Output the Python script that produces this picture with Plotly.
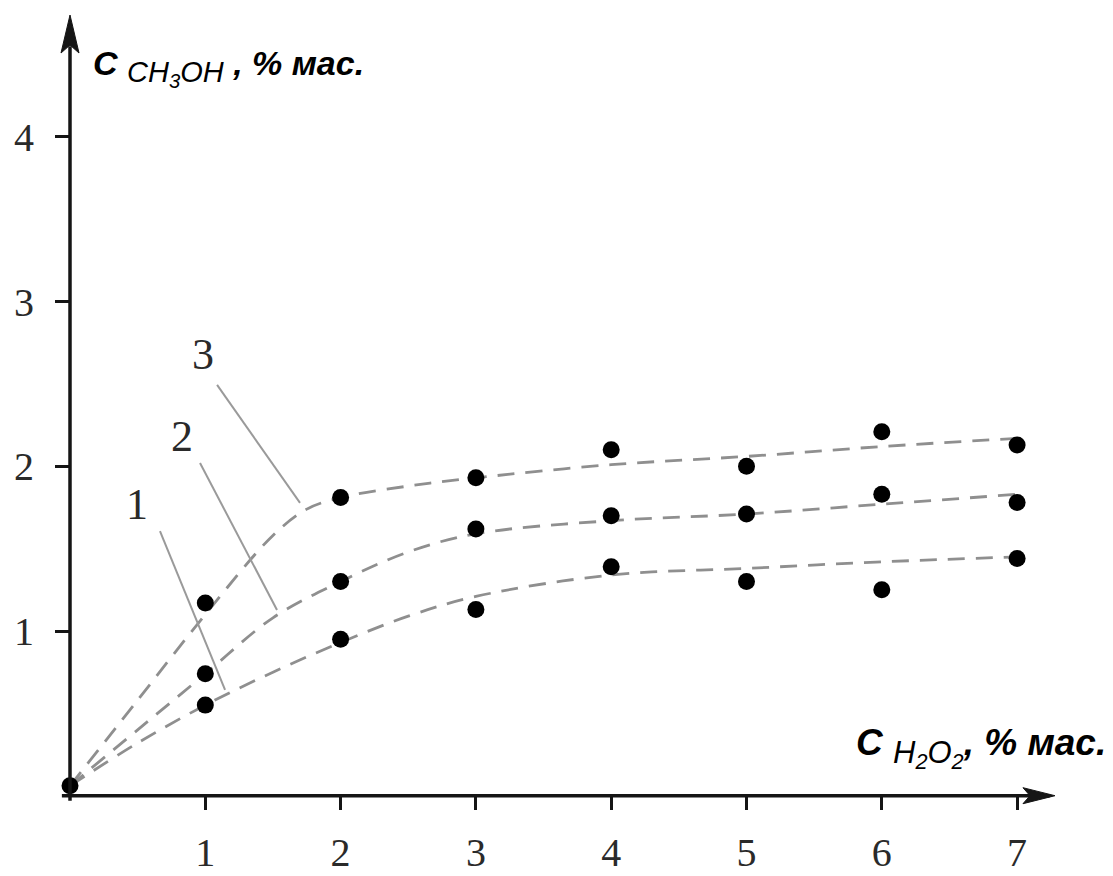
import plotly.graph_objects as go

# measured points (C H2O2, % mass -> C CH3OH, % mass)
x_pts = [1, 2, 3, 4, 5, 6, 7]
series1_pts = [0.55, 0.95, 1.13, 1.39, 1.30, 1.25, 1.44]
series2_pts = [0.74, 1.30, 1.62, 1.70, 1.71, 1.83, 1.78]
series3_pts = [1.17, 1.81, 1.93, 2.10, 2.00, 2.21, 2.13]
origin_pt = [0.0, 0.06]

# dashed fit curves
curve_x = [0, 0.5, 1, 1.5, 2, 2.5, 3, 4, 5, 6, 7]
curve1_y = [0.06, 0.32, 0.55, 0.75, 0.93, 1.09, 1.21, 1.34, 1.38, 1.42, 1.45]
curve2_y = [0.06, 0.40, 0.74, 1.08, 1.30, 1.48, 1.59, 1.67, 1.71, 1.77, 1.83]
curve3_x = [0, 0.5, 1, 1.5, 1.75, 2, 2.5, 3, 4, 5, 6, 7]
curve3_y = [0.06, 0.58, 1.10, 1.58, 1.74, 1.81, 1.88, 1.93, 2.01, 2.06, 2.12, 2.17]

x_ticks = [1, 2, 3, 4, 5, 6, 7]
y_ticks = [1, 2, 3, 4]

# curve labels: (text, label x, label y, leader start, leader end)
curve_labels = [
    ("1", 0.495, 1.77, (0.665, 1.606), (1.146, 0.642)),
    ("2", 0.828, 2.178, (0.961, 2.020), (1.530, 1.128)),
    ("3", 0.983, 2.676, (1.087, 2.494), (1.700, 1.778)),
]

# the page body adds an 8 px margin, so the figure is sized to fit the window
W, H = 1105, 868
X0_PX, PX_PER_X = 62, 135.3
Y0_PX, PX_PER_Y = 787.7, 164.7
x_range = [-X0_PX / PX_PER_X, (W - X0_PX) / PX_PER_X]
y_range = [(Y0_PX - H) / PX_PER_Y, Y0_PX / PX_PER_Y]

AXIS_COLOR = "#151515"
CURVE_COLOR = "#8f8f8f"
DIGIT_FONT = "Liberation Serif"
TITLE_FONT = "Liberation Sans"

fig = go.Figure()

for cx, cy in [(curve_x, curve1_y), (curve_x, curve2_y), (curve3_x, curve3_y)]:
    fig.add_trace(go.Scatter(
        x = cx, y = cy, mode = "lines",
        line = dict(color = CURVE_COLOR, width = 2.8, dash = "17px,11px", shape = "spline"),
        hoverinfo = "skip",
    ))

for ys in [series1_pts, series2_pts, series3_pts]:
    fig.add_trace(go.Scatter(
        x = x_pts, y = ys, mode = "markers",
        marker = dict(color = "black", size = 17),
        cliponaxis = False,
    ))

fig.add_trace(go.Scatter(
    x = [origin_pt[0]], y = [origin_pt[1]], mode = "markers",
    marker = dict(color = "black", size = 17), cliponaxis = False,
))

shapes = [
    # axes
    dict(type = "line", x0 = -0.06, y0 = 0, x1 = 7.24, y1 = 0,
         line = dict(color = AXIS_COLOR, width = 3.5)),
    dict(type = "line", x0 = 0, y0 = -0.03, x1 = 0, y1 = 4.55,
         line = dict(color = AXIS_COLOR, width = 3.5)),
    # arrow heads
    dict(type = "path", xsizemode = "pixel", ysizemode = "pixel",
         xanchor = 0, yanchor = 4.74,
         path = "M0,0 L-9,-38 L0,-30 L9,-38 Z",
         fillcolor = AXIS_COLOR, line = dict(color = AXIS_COLOR, width = 1)),
    dict(type = "path", xsizemode = "pixel", ysizemode = "pixel",
         xanchor = 7.28, yanchor = 0,
         path = "M0,0 L-32,8 L-25,0 L-32,-8 Z",
         fillcolor = AXIS_COLOR, line = dict(color = AXIS_COLOR, width = 1)),
]

annotations = []
for text, lx, ly, (sx, sy), (ex, ey) in curve_labels:
    shapes.append(dict(type = "line", x0 = sx, y0 = sy, x1 = ex, y1 = ey,
                       line = dict(color = "#9a9a9a", width = 2)))
    annotations.append(dict(x = lx, y = ly, text = text, showarrow = False,
                            font = dict(family = DIGIT_FONT, size = 44, color = "#2a2a2a")))

annotations.append(dict(
    xref = "paper", yref = "paper", x = 83 / W, y = 1 - 60 / H,
    xanchor = "left", yanchor = "middle", showarrow = False,
    text = "<b><i>C</i></b> <sub><span style='font-size:29px'><i>CH<sub>3</sub>OH</i></span></sub><b><i> , % мас.</i></b>",
    font = dict(family = TITLE_FONT, size = 34, color = "black"),
))
annotations.append(dict(
    xref = "paper", yref = "paper", x = 1100 / W, y = 1 - 740 / H,
    xanchor = "right", yanchor = "middle", showarrow = False,
    text = "<b><i>C</i></b> <sub><span style='font-size:31px'><i>H<sub>2</sub>O<sub>2</sub></i></span></sub><b><i>, % мас.</i></b>",
    font = dict(family = TITLE_FONT, size = 37, color = "black"),
))

fig.update_layout(
    width = W, height = H,
    margin = dict(l = 0, r = 0, t = 0, b = 0, pad = 0),
    paper_bgcolor = "white", plot_bgcolor = "white",
    showlegend = False,
    shapes = shapes,
    annotations = annotations,
    xaxis = dict(
        range = x_range, anchor = "free", position = (H - Y0_PX) / H,
        tickvals = x_ticks, ticks = "outside", ticklen = 13, tickwidth = 3,
        tickcolor = AXIS_COLOR, ticklabelstandoff = 8,
        tickfont = dict(family = DIGIT_FONT, size = 40, color = "#2a2a2a"),
        showgrid = False, zeroline = False, showline = False, automargin = False,
    ),
    yaxis = dict(
        range = y_range, anchor = "free", position = X0_PX / W,
        tickvals = y_ticks, ticks = "outside", ticklen = 15, tickwidth = 3,
        tickcolor = AXIS_COLOR, ticklabelstandoff = 13,
        tickfont = dict(family = DIGIT_FONT, size = 40, color = "#2a2a2a"),
        showgrid = False, zeroline = False, showline = False, automargin = False,
    ),
)

fig.write_html("out.html")
